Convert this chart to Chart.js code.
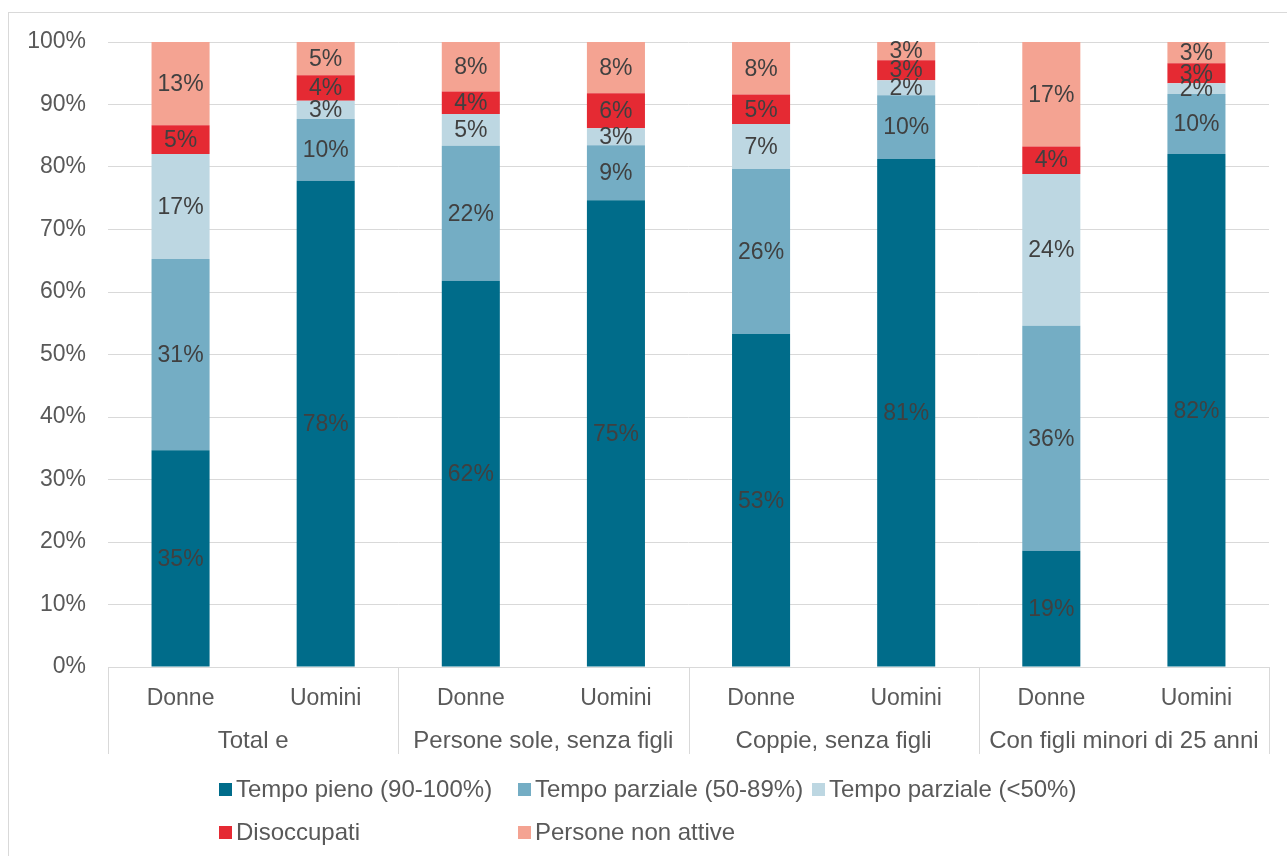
<!DOCTYPE html>
<html>
<head>
<meta charset="utf-8">
<script src="https://cdn.jsdelivr.net/npm/chart.js@4/dist/chart.umd.min.js"></script>
<style>
  html, body { margin: 0; padding: 0; background: #fff; }
  body { width: 1287px; height: 856px; position: relative; overflow: hidden; font-family: "Liberation Sans", Arial, sans-serif; }
  #frame { position: absolute; left: 8px; top: 12px; width: 1300px; height: 860px; border: 1px solid #d9d9d9; box-sizing: border-box; }
  #wrap { position: absolute; left: 0; top: 0; width: 1287px; height: 856px; }
  #legend { position: absolute; left: 219px; top: 775px; display: grid; grid-template-columns: 299px 294px 300px; row-gap: 15px; color: #595959; font-size: 24px; }
  .item { display: flex; align-items: center; white-space: nowrap; height: 28px; }
  .box { width: 13px; height: 13px; margin-right: 4px; flex: none; }
</style>
</head>
<body>
<div id="frame"></div>
<div id="wrap"><canvas id="c" width="1287" height="856"></canvas></div>
<div id="legend"></div>
<script>
const categories = ["Donne", "Uomini", "Donne", "Uomini", "Donne", "Uomini", "Donne", "Uomini"];
const groups = ["Total e", "Persone sole, senza figli", "Coppie, senza figli", "Con figli minori di 25 anni"];
const seriesNames = ["Tempo pieno (90-100%)", "Tempo parziale (50-89%)", "Tempo parziale (<50%)", "Disoccupati", "Persone non attive"];
const tempoPieno     = [34.7, 77.8, 61.8, 74.7, 53.3, 81.3, 18.6, 82.1];
const parziale50_89  = [30.6,  9.9, 21.6,  8.8, 26.4, 10.2, 36.0,  9.6];
const parzialeLt50   = [16.8,  2.9,  5.1,  2.7,  7.2,  2.4, 24.3,  1.7];
const disoccupati    = [ 4.6,  4.1,  3.6,  5.6,  4.7,  3.2,  4.4,  3.2];
const nonAttive      = [13.3,  5.3,  7.9,  8.2,  8.4,  2.9, 16.7,  3.4];
const yTicks = [0, 10, 20, 30, 40, 50, 60, 70, 80, 90, 100];

const colors = ["#006C8A", "#74ADC4", "#BDD7E2", "#E52A33", "#F4A392"];
const allSeries = [tempoPieno, parziale50_89, parzialeLt50, disoccupati, nonAttive];

const FONT = '"Liberation Sans", Arial, sans-serif';

// HTML legend
const lg = document.getElementById('legend');
seriesNames.forEach((n, i) => {
  const d = document.createElement('div');
  d.className = 'item';
  const b = document.createElement('span');
  b.className = 'box';
  b.style.background = colors[i];
  const t = document.createElement('span');
  t.textContent = n;
  d.appendChild(b); d.appendChild(t);
  lg.appendChild(d);
});

const labelPlugin = {
  id: 'segLabels',
  afterDatasetsDraw(chart) {
    const ctx = chart.ctx;
    ctx.save();
    ctx.font = '23px ' + FONT;
    ctx.fillStyle = '#404040';
    ctx.textAlign = 'center';
    ctx.textBaseline = 'middle';
    chart.data.datasets.forEach((ds, di) => {
      const meta = chart.getDatasetMeta(di);
      meta.data.forEach((bar, i) => {
        const v = ds.data[i];
        const yc = (bar.y + bar.base) / 2;
        ctx.fillText(Math.round(v) + '%', bar.x, yc + 1);
      });
    });
    ctx.restore();
  }
};

const groupPlugin = {
  id: 'groupAxis',
  afterDraw(chart) {
    const x = chart.scales.x;
    const ctx = chart.ctx;
    const top = chart.chartArea.bottom;
    const catW = (x.right - x.left) / categories.length;
    ctx.save();
    ctx.strokeStyle = '#d9d9d9';
    ctx.lineWidth = 1;
    for (let g = 0; g <= groups.length; g++) {
      const px = Math.round(x.left + g * 2 * catW) + 0.5;
      ctx.beginPath();
      ctx.moveTo(px, top);
      ctx.lineTo(px, 754);
      ctx.stroke();
    }
    ctx.font = '24px ' + FONT;
    ctx.fillStyle = '#595959';
    ctx.textAlign = 'center';
    ctx.textBaseline = 'middle';
    groups.forEach((g, i) => {
      const cx = (x.getPixelForValue(2 * i) + x.getPixelForValue(2 * i + 1)) / 2;
      ctx.fillText(g, cx, 741);
    });
    ctx.restore();
  }
};

new Chart(document.getElementById('c'), {
  type: 'bar',
  data: {
    labels: categories,
    datasets: allSeries.map((d, i) => ({
      label: seriesNames[i],
      data: d,
      backgroundColor: colors[i],
      borderWidth: 0,
      barPercentage: 0.4,
      categoryPercentage: 1.0
    }))
  },
  options: {
    responsive: false,
    animation: false,
    devicePixelRatio: 1,
    layout: { padding: { top: 42, right: 18, left: 0, bottom: 0 } },
    plugins: { legend: { display: false }, tooltip: { enabled: false } },
    scales: {
      x: {
        stacked: true,
        grid: { display: false },
        border: { display: true, color: '#d9d9d9', width: 1 },
        ticks: { color: '#595959', font: { size: 23, family: FONT }, padding: 10, maxRotation: 0 },
        afterFit(s) { s.height = 189; }
      },
      y: {
        stacked: true,
        min: 0, max: 100,
        afterBuildTicks(s) { s.ticks = yTicks.map(v => ({ value: v })); },
        grid: { color: '#d9d9d9', lineWidth: 1, drawTicks: false },
        border: { display: false },
        ticks: { color: '#595959', font: { size: 23, family: FONT }, padding: 22, callback: v => v + '%' },
        afterFit(s) { s.width = 108; }
      }
    }
  },
  plugins: [labelPlugin, groupPlugin]
});
</script>
</body>
</html>
